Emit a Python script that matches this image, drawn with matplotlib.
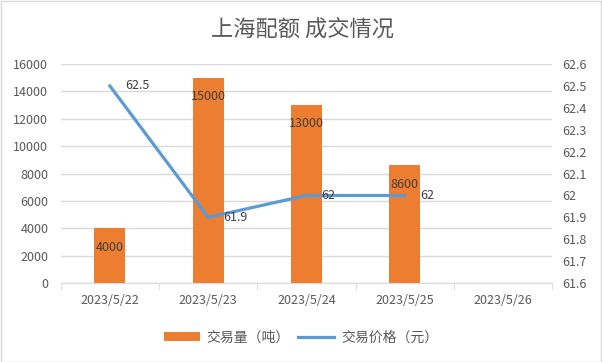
import numpy as np
import matplotlib
matplotlib.use("Agg")
import matplotlib.pyplot as plt
from matplotlib.patches import Rectangle

plt.rcParams['font.family'] = ['Noto Sans CJK SC', 'DejaVu Sans']

dates = ["2023/5/22", "2023/5/23", "2023/5/24", "2023/5/25", "2023/5/26"]
volume = [4000, 15000, 13000, 8600, np.nan]
price = [62.5, 61.9, 62, 62, np.nan]
vol_labels = ["4000", "15000", "13000", "8600", ""]
price_labels = ["62.5", "61.9", "62", "62", ""]

bar_color = "#ED7D31"
line_color = "#5B9BD5"
txt = "#595959"
grid = "#D9D9D9"

fig = plt.figure(figsize=(6.02, 3.62), dpi=100)
fig.patches.append(Rectangle((0.001, 0.001), 0.997, 0.996, transform=fig.transFigure,
                             fill=False, edgecolor="#D9D9D9", linewidth=1))
ax = fig.add_axes([0.101, 0.218, 0.816, 0.605])
ax2 = ax.twinx()

x = np.arange(len(dates))
ax.bar(x, volume, width=0.315, color=bar_color, zorder=2, label="交易量（吨）")
ax.set_ylim(0, 16000)
ax.set_yticks(np.arange(0, 16001, 2000))
ax.set_xlim(-0.5, len(dates) - 0.5)
ax.set_xticks(x)
ax.set_xticklabels(dates)
ax.set_xticks(np.arange(-0.5, len(dates), 1), minor=True)
ax.tick_params(axis='x', which='major', length=0, pad=8, labelsize=9, labelcolor=txt)
ax.tick_params(axis='x', which='minor', length=5, color=grid)
ax.tick_params(axis='y', length=0, pad=9, labelsize=9, labelcolor=txt)
ax.grid(axis='y', color=grid, linewidth=1, zorder=0)
for s in ["top", "left", "right"]:
    ax.spines[s].set_visible(False)
ax.spines["bottom"].set_color(grid)

for xi, v, lab in zip(x, volume, vol_labels):
    if lab:
        ax.annotate(lab, (xi, v), xytext=(0, -13.5), textcoords="offset points",
                    ha="center", va="center", fontsize=9, color="#404040", zorder=5)

ax2.plot(x, price, color=line_color, linewidth=2.3, zorder=3, label="交易价格（元）")
ax2.set_ylim(61.6, 62.6)
ticks = np.round(np.arange(61.6, 62.61, 0.1), 1)
ax2.set_yticks(ticks)
ax2.set_yticklabels(["%g" % t for t in ticks])
ax2.tick_params(axis='y', length=0, pad=7.5, labelsize=9, labelcolor=txt)
for s in ["top", "left", "right", "bottom"]:
    ax2.spines[s].set_visible(False)
for xi, v, lab in zip(x, price, price_labels):
    if lab:
        ax2.annotate(lab, (xi, v), xytext=(11, 0), textcoords="offset points",
                     ha="left", va="center", fontsize=9, color="#404040", zorder=5)

fig.text(0.502, 0.917, "上海配额 成交情况", ha="center", va="center", fontsize=16,
         color=txt)

h1, l1 = ax.get_legend_handles_labels()
h2, l2 = ax2.get_legend_handles_labels()
fig.legend(h1 + h2, l1 + l2, loc="center", bbox_to_anchor=(0.5, 0.068), ncol=2,
           frameon=False, fontsize=10, labelcolor=txt, handlelength=2.6,
           handletextpad=0.5, columnspacing=0.6)

fig.savefig("out.png", dpi=100)
